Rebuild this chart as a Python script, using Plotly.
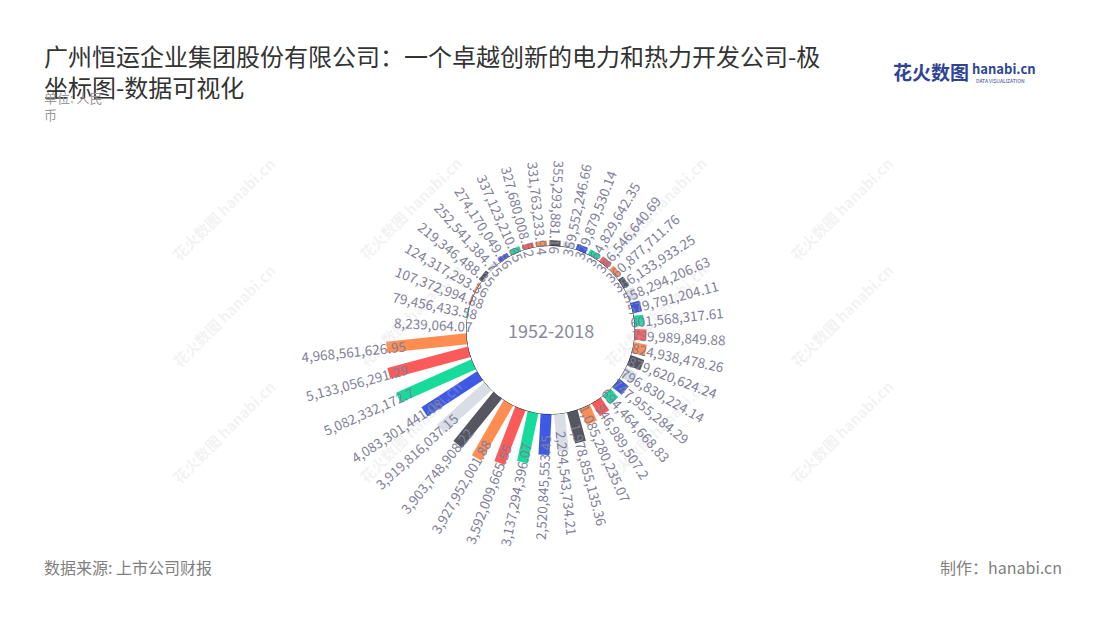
import math
import plotly.graph_objects as go

# ---------------- data ----------------
categories = [str(i) for i in range(1, 41)]
values = [
    8239064.07, 79456433.58, 107372994.88, 124317293.36, 219346488.35,
    252541384.75, 274170049.86, 337123210.65, 327680008.52, 331763233.94,
    355293881.16, 359552246.66, 379879530.14, 364829642.35, 386546640.69,
    360877711.76, 366133933.25, 558294206.63, 579791204.11, 601568317.61,
    739989849.88, 824938478.26, 879620624.24, 796830224.14, 747955284.29,
    694464668.83, 946989507.2, 1085280235.07, 1978855135.36, 2294543734.21,
    2520845553.45, 3137294396.07, 3592009665.55, 3927952001.88, 3903748908.22,
    3919816037.15, 4083301441.08, 5082332172.7, 5133056291.29, 4968561626.95,
]
palette = ["#3e59e4", "#18db9b", "#fb5a5a", "#ff8d52", "#55565f", "#d9dde6"]

title_text = "广州恒运企业集团股份有限公司：一个卓越创新的电力和热力开发公司-极<br>坐标图-数据可视化"
unit_text = "单位: 人民<br>币"
center_text = "1952-2018"
source_text = "数据来源: 上市公司财报"
maker_text = "制作：hanabi.cn"

# ---------------- layout geometry ----------------
PAGE_OFF = 8                   # default page body margin in the browser
W, H = 1100 - PAGE_OFF, 620 - PAGE_OFF
CX, CY = 550.5, 330.0          # polar centre (window px)
HOLE_PX = 84.0                 # hole radius in px
R_PX = 180.0                   # outer radius of polar domain in px
PX_PER_UNIT = 16.25 / 1e9      # px per value unit
RMAX = (R_PX - HOLE_PX) / PX_PER_UNIT
ROTATION = 177                 # angle of first category (deg, ccw from east)
STEP = 360 / len(categories)
FONT = "Noto Sans CJK SC"
LABEL_COLOR = "#7f7f99"


def px(X):
    return (X - PAGE_OFF) / W


def py(Y):
    return (H - (Y - PAGE_OFF)) / H


def fmt(v):
    s = f"{v:,.2f}"
    s = s.rstrip("0").rstrip(".")
    return s


fig = go.Figure()

# bars as thick radial strokes (constant width)
for k, col in enumerate(palette):
    r, th = [], []
    for i in range(k, len(values), len(palette)):
        r += [0, values[i], None]
        th += [categories[i], categories[i], None]
    fig.add_trace(go.Scatterpolar(
        r=r, theta=th, mode="lines", connectgaps=False,
        line=dict(color=col, width=11), hoverinfo="skip", showlegend=False,
    ))

# hole outline
fig.add_trace(go.Scatterpolar(
    r=[0] * (len(categories) + 1), theta=categories + [categories[0]],
    mode="lines", line=dict(color="#1e1e1e", width=1, shape="spline"),
    cliponaxis=False, hoverinfo="skip", showlegend=False,
))

annotations = []

# watermarks
for wx in [165, 410, 655, 900]:
    for wy in [150, 315, 490]:
        annotations.append(dict(
            x=px(wx), y=py(wy), xref="paper", yref="paper",
            text="<b>花火数图</b> <b>hanabi.cn</b>", showarrow=False, textangle=-45,
            font=dict(family=FONT, size=15, color="rgba(200,200,200,0.22)"),
        ))

# value labels, rotated radially
for i, v in enumerate(values):
    alpha = ROTATION - i * STEP
    phi = (90 - alpha) % 360            # clockwise from top
    rp = HOLE_PX + v * PX_PER_UNIT + 33
    xp = CX + rp * math.sin(math.radians(phi))
    yp = CY - rp * math.cos(math.radians(phi))
    if 4 < phi < 180:
        ta = phi - 90
    else:
        ta = phi - 270
    while ta > 180:
        ta -= 360
    while ta <= -180:
        ta += 360
    annotations.append(dict(
        x=px(xp), y=py(yp), xref="paper", yref="paper",
        text=fmt(v), showarrow=False, textangle=ta,
        xanchor="center", yanchor="middle",
        font=dict(family=FONT, size=13.5, color=LABEL_COLOR),
    ))

# centre text
annotations.append(dict(
    x=px(CX), y=py(CY), xref="paper", yref="paper", text=center_text,
    showarrow=False, xanchor="center", yanchor="middle",
    font=dict(family=FONT, size=18, color="#8a8a9c"),
))

# title
annotations.append(dict(
    x=px(42), y=py(36), xref="paper", yref="paper", text=title_text,
    showarrow=False, xanchor="left", yanchor="top", align="left",
    font=dict(family=FONT, size=24, color="#333333"),
))
# unit
annotations.append(dict(
    x=px(42), y=py(86), xref="paper", yref="paper", text=unit_text,
    showarrow=False, xanchor="left", yanchor="top", align="left",
    font=dict(family=FONT, size=13, color="#999999"),
))
# logo
annotations.append(dict(
    x=px(891), y=py(72), xref="paper", yref="paper", text="<b>花火数图</b>",
    showarrow=False, xanchor="left", yanchor="middle",
    font=dict(family=FONT, size=19, color="#2f4594"),
))
annotations.append(dict(
    x=px(970), y=py(69), xref="paper", yref="paper", text="<b>hanabi.cn</b>",
    showarrow=False, xanchor="left", yanchor="middle",
    font=dict(family=FONT, size=13, color="#2f4594"),
))
annotations.append(dict(
    x=px(974), y=py(80), xref="paper", yref="paper", text="DATA VISUALIZATION",
    showarrow=False, xanchor="left", yanchor="middle",
    font=dict(family=FONT, size=5, color="#2f4594"),
))
# footer
annotations.append(dict(
    x=px(42), y=py(567), xref="paper", yref="paper", text=source_text,
    showarrow=False, xanchor="left", yanchor="middle",
    font=dict(family=FONT, size=16, color="#808080"),
))
annotations.append(dict(
    x=px(1064), y=py(567), xref="paper", yref="paper", text=maker_text,
    showarrow=False, xanchor="right", yanchor="middle",
    font=dict(family=FONT, size=16, color="#808080"),
))

fig.update_layout(
    width=W, height=H, autosize=False,
    margin=dict(l=0, r=0, t=0, b=0),
    paper_bgcolor="white", plot_bgcolor="white",
    showlegend=False,
    annotations=annotations,
    polar=dict(
        domain=dict(x=[px(CX - R_PX), px(CX + R_PX)],
                    y=[py(CY + R_PX), py(CY - R_PX)]),
        hole=HOLE_PX / R_PX,
        bgcolor="rgba(0,0,0,0)",
        radialaxis=dict(visible=False, range=[0, RMAX]),
        angularaxis=dict(type="category", categoryorder="array", categoryarray=categories,
                         direction="clockwise", rotation=ROTATION, visible=False,
                         showgrid=False, showline=False, showticklabels=False, ticks=""),
    ),
)

fig.write_html("out.html")
